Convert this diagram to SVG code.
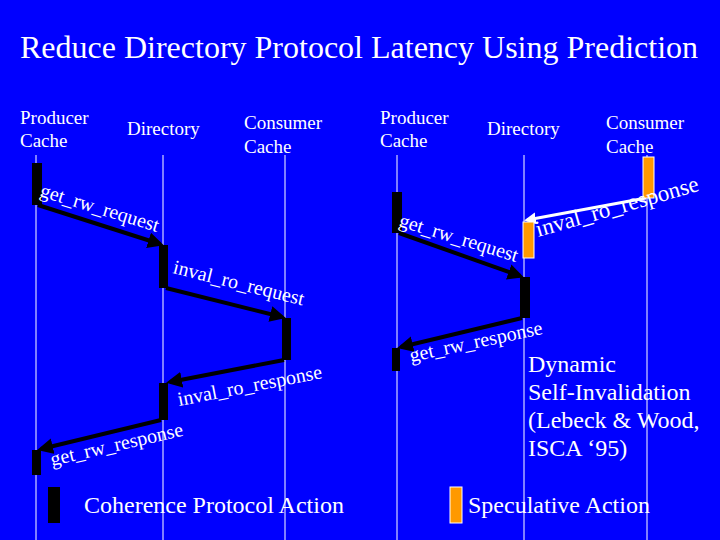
<svg xmlns="http://www.w3.org/2000/svg" width="720" height="540" viewBox="0 0 720 540">
<defs>
<style>
text{font-family:"Liberation Serif","DejaVu Serif",serif;fill:#fff}
.h{font-size:19px}
.m{font-size:20px}
.big{font-size:24px}
.life{stroke:#fff;stroke-width:1}
.blk{fill:#000}
.org{fill:#ff9900;stroke:#fff;stroke-width:1}
.arr{stroke:#000;stroke-width:4;fill:none;marker-end:url(#ab)}
.warr{stroke:#fff;stroke-width:3;fill:none;marker-end:url(#aw)}
</style>
<marker id="ab" markerWidth="4" markerHeight="4" refX="3" refY="2" orient="auto"><path d="M0,0L4,2L0,4z" fill="#000"/></marker>
<marker id="aw" markerWidth="4" markerHeight="4" refX="3" refY="2" orient="auto"><path d="M0,0L4,2L0,4z" fill="#fff"/></marker>
</defs>
<rect width="720" height="540" fill="#0000ff"/>
<text x="20" y="58" style="font-size:32px">Reduce Directory Protocol Latency Using Prediction</text>
<g id="headers">
<text x="20" y="124" class="h">Producer</text><text x="20" y="147" class="h">Cache</text>
<text x="127" y="135" class="h">Directory</text>
<text x="244" y="129" class="h">Consumer</text><text x="244" y="153" class="h">Cache</text>
<text x="380" y="124" class="h">Producer</text><text x="380" y="147" class="h">Cache</text>
<text x="487" y="135" class="h">Directory</text>
<text x="606" y="129" class="h">Consumer</text><text x="606" y="153" class="h">Cache</text>
</g>
<g id="lifelines">
<line class="life" x1="36" y1="155" x2="36" y2="540"/><line class="life" x1="163" y1="155" x2="163" y2="540"/><line class="life" x1="285" y1="155" x2="285" y2="540"/>
<line class="life" x1="397" y1="155" x2="397" y2="540"/><line class="life" x1="524" y1="155" x2="524" y2="540"/><line class="life" x1="647" y1="155" x2="647" y2="540"/>
</g>
<g id="connectors">
<line class="arr" x1="38" y1="205" x2="160" y2="244"/>
<line class="arr" x1="166" y1="288" x2="282" y2="317"/>
<line class="arr" x1="284" y1="360" x2="170" y2="382"/>
<line class="arr" x1="161" y1="420" x2="41" y2="449"/>
<line class="warr" x1="646" y1="198" x2="527" y2="220"/>
<line class="arr" x1="399" y1="233" x2="520" y2="276"/>
<line class="arr" x1="522" y1="318" x2="401" y2="347"/>
</g>
<g id="left-blocks">
<rect class="blk" x="32" y="163" width="10" height="42"/>
<rect class="blk" x="159" y="245" width="9" height="43"/>
<rect class="blk" x="282" y="318" width="9" height="42"/>
<rect class="blk" x="159" y="383" width="9" height="37"/>
<rect class="blk" x="32" y="450" width="9" height="25"/>
</g>
<g id="right-blocks">
<rect class="blk" x="392" y="192" width="10" height="41"/>
<rect class="org" x="643" y="157" width="11" height="41"/>
<rect class="org" x="523" y="222" width="11" height="36"/>
<rect class="blk" x="520" y="277" width="10" height="41"/>
<rect class="blk" x="392" y="348" width="8" height="23"/>
</g>
<g id="labels">
<text class="m" transform="translate(39,196) rotate(17)">get_rw_request</text>
<text class="m" transform="translate(172,273) rotate(14)">inval_ro_request</text>
<text class="m" transform="translate(179,406) rotate(-11)">inval_ro_response</text>
<text class="m" transform="translate(52,466) rotate(-13)">get_rw_response</text>
<text class="m" transform="translate(398,226) rotate(17)">get_rw_request</text>
<text transform="translate(538,237) rotate(-16)" style="font-size:23px">inval_ro_response</text>
<text class="m" transform="translate(411,362) rotate(-12)">get_rw_response</text>
</g>
<g id="note">
<text x="528" y="372" class="big">Dynamic</text>
<text x="528" y="400" class="big">Self-Invalidation</text>
<text x="528" y="428" class="big">(Lebeck &amp; Wood,</text>
<text x="528" y="456" class="big">ISCA ‘95)</text>
</g>
<g id="legend">
<rect class="blk" x="48" y="487" width="12" height="36"/>
<text x="84" y="513" class="big">Coherence Protocol Action</text>
<rect class="org" x="450" y="487" width="12" height="36"/>
<text x="468" y="513" class="big">Speculative Action</text>
</g>
</svg>
